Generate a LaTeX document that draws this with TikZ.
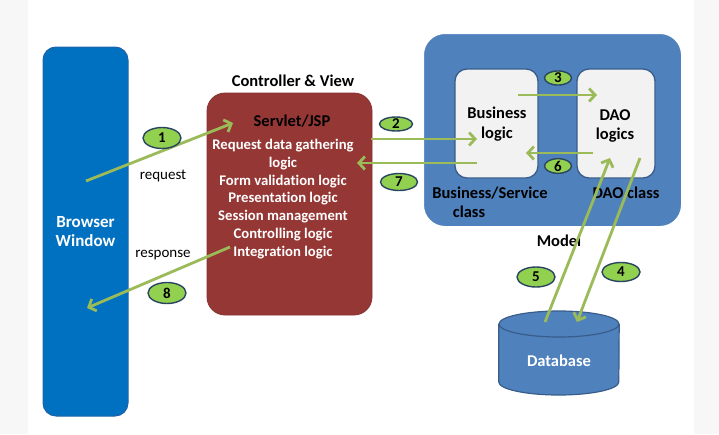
\documentclass[tikz,border=0pt]{standalone}
\usepackage{fontspec}
\setmainfont{Carlito}[Ligatures={NoCommon}]
\usetikzlibrary{arrows.meta,shapes.geometric}
\definecolor{bwblue}{HTML}{0070C0}
\definecolor{bwedge}{HTML}{1F64A8}
\definecolor{svred}{HTML}{953735}
\definecolor{mdblue}{HTML}{4F81BD}
\definecolor{mdedge}{HTML}{385D8A}
\definecolor{inner}{HTML}{F2F2F2}
\definecolor{arrgreen}{HTML}{9BBB59}
\definecolor{numgreen}{HTML}{92D050}
\definecolor{numedge}{HTML}{2A4560}
\definecolor{sidegray}{HTML}{F7F7F7}
\tikzset{
  flow/.style={draw=arrgreen, line width=2.8pt, -{Straight Barb[length=6pt,width=13pt]}},
  num/.style={ellipse, fill=numgreen, draw=numedge, line width=1.4pt, inner sep=0pt, font=\fontsize{15}{16}\selectfont\bfseries},
  bigtxt/.style={font=\fontsize{16.5}{19.5}\selectfont\bfseries, align=center, inner sep=0pt},
  smalltxt/.style={font=\fontsize{15}{17}\selectfont, inner sep=0pt},
  innerbox/.style={fill=inner, draw=mdedge, line width=1.3pt, rounded corners=12pt, minimum width=83pt, minimum height=109pt, inner sep=0pt}
}
\begin{document}
\begin{tikzpicture}[x=1pt,y=-1pt]
\useasboundingbox (0,0) rectangle (719,434);
\fill[sidegray] (0,0) rectangle (28,434);
\fill[sidegray] (694,0) rectangle (719,434);
% Browser window
\node[fill=bwblue, draw=bwedge, line width=1pt, rounded corners=13pt, minimum width=85pt, minimum height=369pt, inner sep=0pt, text=white, bigtxt, font=\fontsize{17}{19.5}\selectfont\bfseries] (bw) at (85.5,231.5) {Browser\\Window};
% Controller & View
\node[bigtxt] (cvlabel) at (293,81) {Controller \& View};
\node[fill=svred, draw=svred!90!black, line width=0.8pt, rounded corners=18pt, minimum width=165pt, minimum height=222pt, inner sep=0pt] (sv) at (289.5,204) {};
\node[bigtxt] (svtitle) at (292,121) {Servlet/JSP};
\node[font=\fontsize{14.7}{17.8}\selectfont\bfseries, text=white, align=center, inner sep=0pt, anchor=north] (svlist) at (283,139) {Request data gathering\\logic\\Form validation logic\\Presentation logic\\Session management\\Controlling logic\\Integration logic};
% Model
\node[fill=mdblue, draw=white, line width=2pt, rounded corners=22pt, minimum width=259pt, minimum height=194pt, inner sep=0pt] (model) at (552.5,130) {};
\node[innerbox] (bl) at (496.5,123.5) {};
\node[innerbox, minimum width=78pt] (dao) at (616,123.5) {};
\node[bigtxt] (bltxt) at (497,124) {Business\\logic};
\node[bigtxt] (daotxt) at (615,126) {DAO\\logics};
\node[bigtxt] (bsc1) at (490,193) {Business/Service};
\node[bigtxt] (bsc2) at (469,212) {class};
\node[bigtxt] (daocl) at (626,193) {DAO class};
\node[bigtxt] (mlabel) at (559,241) {Model};
% Database
\node[minimum width=120pt, minimum height=85pt, inner sep=0pt] (db) at (559,353) {};
\fill[mdblue, draw=mdedge, line width=1.2pt] (db.west |- 0,324) -- (db.west |- 0,382) arc[start angle=180, end angle=0, x radius=60, y radius=13] -- (db.east |- 0,324);
\fill[mdblue, draw=mdedge, line width=1.2pt] (559,324) ellipse[x radius=60, y radius=13];
\node[bigtxt, text=white] (dbtxt) at (559,361) {Database};
% arrow end points
\coordinate (a1s) at (86,181);  \coordinate (a1e) at (233,123);
\coordinate (a8s) at (230,247); \coordinate (a8e) at (87,308);
\coordinate (a2s) at (371,139); \coordinate (a2e) at (477,139);
\coordinate (a7s) at (477,163); \coordinate (a7e) at (357,163);
\coordinate (a3s) at (518,95);  \coordinate (a3e) at (597,95);
\coordinate (a6s) at (593,153); \coordinate (a6e) at (526,153);
\coordinate (a5s) at (545,322); \coordinate (a5e) at (610,158);
\coordinate (a4s) at (640,158); \coordinate (a4e) at (577,322);
\draw[flow] (a1s) -- (a1e);
\draw[flow] (a8s) -- (a8e);
\draw[flow] (a2s) -- (a2e);
\draw[flow] (a7s) -- (a7e);
\draw[flow] (a3s) -- (a3e);
\draw[flow] (a6s) -- (a6e);
\draw[flow] (a5s) -- (a5e);
\draw[flow] (a4s) -- (a4e);
% labels
\node[smalltxt] (req) at (163,176) {request};
\node[smalltxt] (resp) at (163,255) {response};
\node[num, minimum width=38pt, minimum height=21pt] (n1) at (162,138) {1};
\node[num, minimum width=33pt, minimum height=14pt] (n2) at (396,124) {2};
\node[num, minimum width=27pt, minimum height=14pt] (n3) at (558,78) {3};
\node[num, minimum width=38pt, minimum height=19pt] (n4) at (621,272) {4};
\node[num, minimum width=38pt, minimum height=20pt] (n5) at (536,277) {5};
\node[num, minimum width=27pt, minimum height=14pt] (n6) at (558,166) {6};
\node[num, minimum width=37pt, minimum height=17pt] (n7) at (399,182) {7};
\node[num, minimum width=38pt, minimum height=21pt] (n8) at (167,293) {8};
\end{tikzpicture}
\end{document}
